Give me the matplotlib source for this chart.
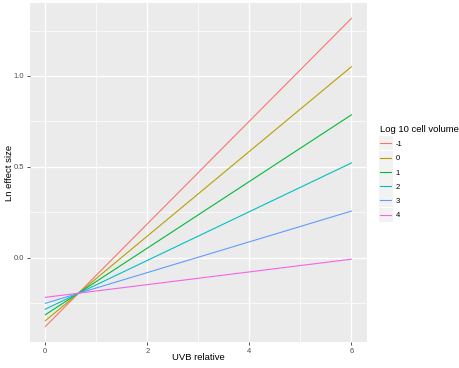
import numpy as np
import matplotlib
matplotlib.use("Agg")
import matplotlib.pyplot as plt
from matplotlib.lines import Line2D
from matplotlib.patches import Rectangle

plt.rcParams['font.family'] = ['Liberation Sans', 'DejaVu Sans']

# data: one straight line per cell volume group
groups = ['-1', '0', '1', '2', '3', '4']
x_ends = [0, 6]
y_start = [-0.380, -0.348, -0.315, -0.284, -0.252, -0.219]
y_end = [1.317, 1.051, 0.786, 0.521, 0.256, -0.009]
colors = ['#F8766D', '#B79F00', '#00BA38', '#00BFC4', '#619CFF', '#F564E3']

fig = plt.figure(figsize=(4.59, 3.68), dpi=100)
ax = fig.add_axes([30 / 459, 1 - 342 / 368, 336.7 / 459, 339 / 368])
ax.set_facecolor('#EBEBEB')

for g, y0, y1, c in zip(groups, y_start, y_end, colors):
    ax.plot(x_ends, [y0, y1], color=c, lw=0.8, label=g, zorder=3)

ax.set_xlim(-0.3, 6.3)
ax.set_ylim(-0.465, 1.402)
ax.set_xticks([0, 2, 4, 6])
ax.set_xticks([1, 3, 5], minor=True)
ax.set_yticks([0.0, 0.5, 1.0])
ax.set_yticklabels(['0.0', '0.5', '1.0'])
ax.set_yticks([-0.25, 0.25, 0.75, 1.25], minor=True)
ax.grid(which='major', color='white', lw=1.0, zorder=1)
ax.grid(which='minor', color='white', lw=0.5, zorder=1)
ax.set_axisbelow(True)
for s in ax.spines.values():
    s.set_visible(False)
ax.tick_params(which='major', length=2, width=0.6, color='#333333',
               labelsize=5.5, labelcolor='#4D4D4D', pad=2)
ax.tick_params(which='minor', length=0)

# axis titles placed in figure pixels
fig.text(198 / 459, 1 - 357 / 368, 'UVB relative', fontsize=6.8,
         ha='center', va='center')
fig.text(10 / 459, 1 - 172.5 / 368, 'Ln effect size', fontsize=6.8,
         ha='center', va='center', rotation=90)

handles = [Line2D([0], [0], color=c, lw=0.8) for c in colors]
leg = fig.legend(handles, groups, loc='upper left',
                 bbox_to_anchor=(373 / 459, 1 - 118 / 368),
                 frameon=False, fontsize=5.5, title='Log 10 cell volume',
                 title_fontsize=6.8, alignment='left', handlelength=1.5,
                 labelspacing=0.9, handletextpad=0.6)

# grey key boxes behind legend lines, like ggplot
fig.canvas.draw()
inv = fig.transFigure.inverted()
for h in leg.legend_handles:
    bb = h.get_window_extent(fig.canvas.get_renderer())
    cx = (bb.x0 + bb.x1) / 2
    cy = (bb.y0 + bb.y1) / 2
    (fx0, fy0) = inv.transform((cx - 7, cy - 7))
    (fx1, fy1) = inv.transform((cx + 7, cy + 7))
    fig.add_artist(Rectangle((fx0, fy0), fx1 - fx0, fy1 - fy0,
                             transform=fig.transFigure, facecolor='#F2F2F2',
                             edgecolor='none', zorder=0))

fig.savefig('out.png', dpi=100)
